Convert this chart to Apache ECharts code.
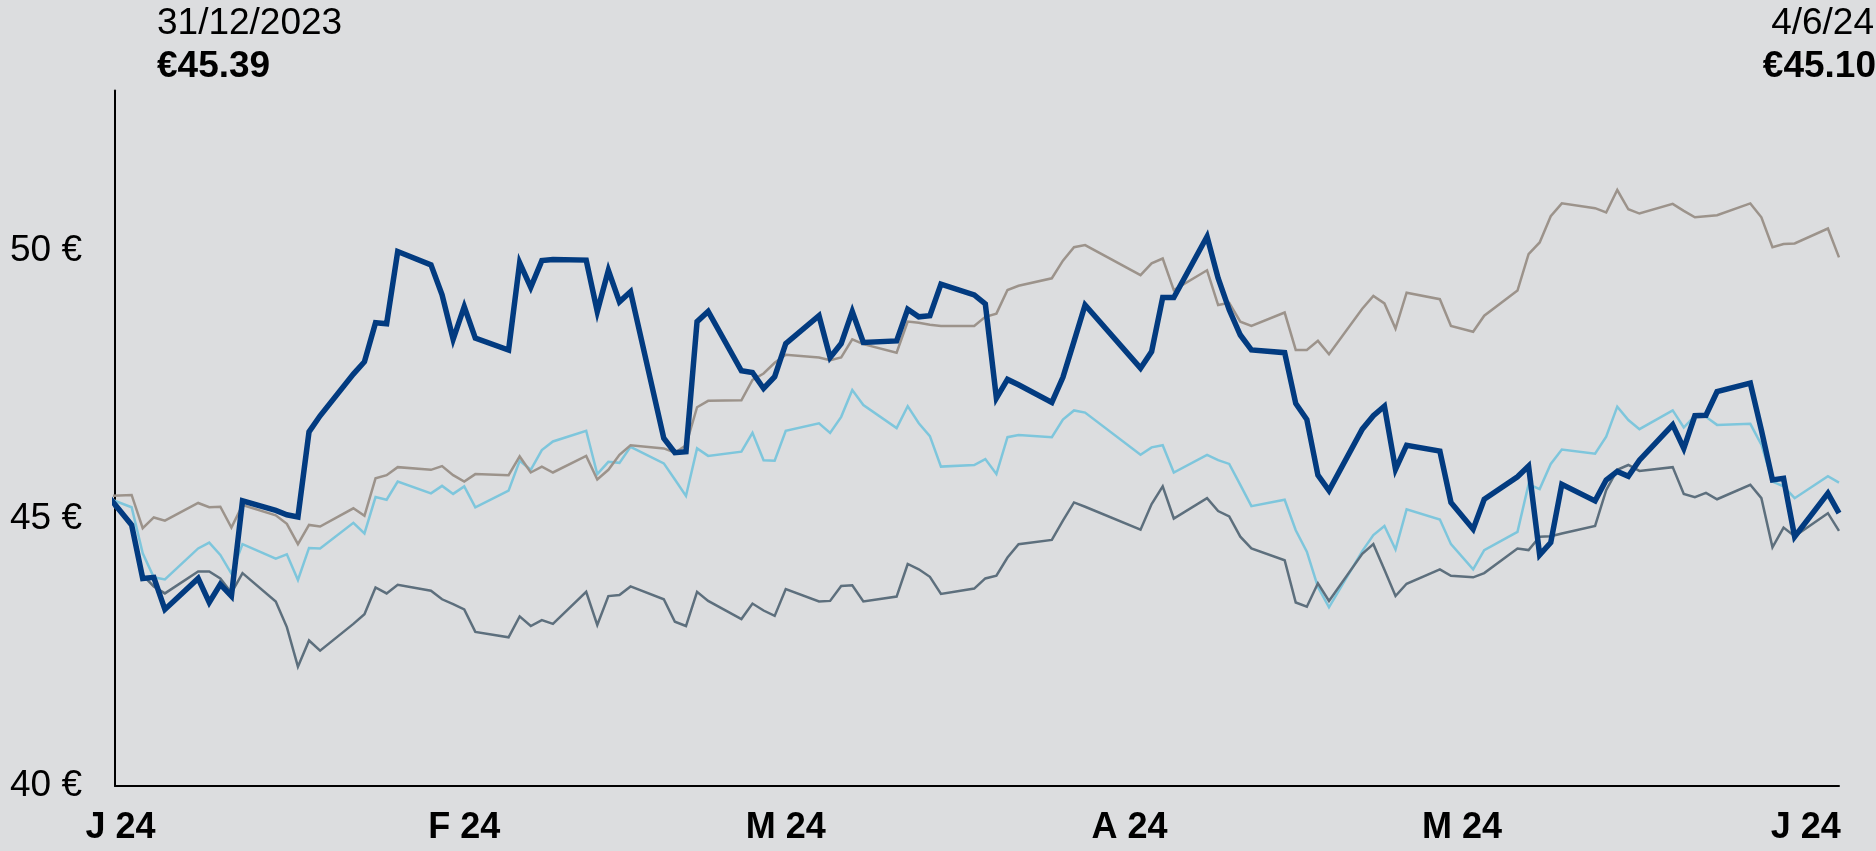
<!DOCTYPE html>
<html>
<head>
<meta charset="utf-8">
<script src="https://cdn.jsdelivr.net/npm/echarts@6/dist/echarts.min.js"></script>
<style>
html,body{margin:0;padding:0;background:#dcdddf;}
#chart{width:1876px;height:851px;}
</style>
</head>
<body>
<div id="chart"></div>
<script>
const dates = ['2023-12-31','2024-01-02','2024-01-03','2024-01-04','2024-01-05','2024-01-08','2024-01-09','2024-01-10','2024-01-11','2024-01-12',
'2024-01-15','2024-01-16','2024-01-17','2024-01-18','2024-01-19','2024-01-22','2024-01-23','2024-01-24','2024-01-25','2024-01-26',
'2024-01-29','2024-01-30','2024-01-31','2024-02-01','2024-02-02','2024-02-05','2024-02-06','2024-02-07','2024-02-08','2024-02-09',
'2024-02-12','2024-02-13','2024-02-14','2024-02-15','2024-02-16','2024-02-19','2024-02-20','2024-02-21','2024-02-22','2024-02-23',
'2024-02-26','2024-02-27','2024-02-28','2024-02-29','2024-03-01','2024-03-04','2024-03-05','2024-03-06','2024-03-07','2024-03-08',
'2024-03-11','2024-03-12','2024-03-13','2024-03-14','2024-03-15','2024-03-18','2024-03-19','2024-03-20','2024-03-21','2024-03-22',
'2024-03-25','2024-03-26','2024-03-27','2024-03-28','2024-04-02','2024-04-03','2024-04-04','2024-04-05','2024-04-08','2024-04-09',
'2024-04-10','2024-04-11','2024-04-12','2024-04-15','2024-04-16','2024-04-17','2024-04-18','2024-04-19','2024-04-22','2024-04-23',
'2024-04-24','2024-04-25','2024-04-26','2024-04-29','2024-04-30','2024-05-02','2024-05-03','2024-05-06','2024-05-07','2024-05-08',
'2024-05-09','2024-05-10','2024-05-13','2024-05-14','2024-05-15','2024-05-16','2024-05-17','2024-05-20','2024-05-21','2024-05-22',
'2024-05-23','2024-05-24','2024-05-27','2024-05-28','2024-05-29','2024-05-30','2024-05-31','2024-06-03','2024-06-04'];

const sharePrice = [45.39,44.88,43.88,43.90,43.30,43.88,43.43,43.77,43.55,45.33,
45.15,45.07,45.03,46.62,46.92,47.70,47.93,48.66,48.64,49.99,
49.74,49.18,48.35,48.96,48.37,48.15,49.78,49.32,49.82,49.84,
49.83,48.87,49.64,49.05,49.24,46.50,46.23,46.25,48.68,48.87,
47.76,47.73,47.43,47.65,48.27,48.79,48.01,48.27,48.87,48.29,
48.32,48.91,48.77,48.79,49.38,49.18,49.01,47.25,47.60,47.50,
47.17,47.64,48.31,48.99,47.81,48.12,49.13,49.13,50.27,49.49,
48.90,48.43,48.15,48.10,47.15,46.85,45.81,45.52,46.67,46.92,
47.10,45.92,46.37,46.26,45.30,44.80,45.36,45.78,45.98,44.32,
44.55,45.64,45.33,45.72,45.88,45.79,46.09,46.75,46.31,46.92,
46.93,47.37,47.53,46.65,45.72,45.75,44.66,45.47,45.10];

const peerTaupe = [45.42,45.44,44.82,45.02,44.96,45.29,45.21,45.22,44.83,45.25,
45.06,44.90,44.52,44.88,44.85,45.19,45.05,45.75,45.81,45.96,
45.91,45.98,45.81,45.69,45.83,45.81,46.16,45.86,45.97,45.86,
46.17,45.73,45.91,46.19,46.37,46.31,46.23,46.37,47.08,47.20,
47.21,47.59,47.71,47.91,48.06,48.01,47.96,48.01,48.35,48.26,
48.10,48.68,48.66,48.62,48.60,48.60,48.77,48.83,49.27,49.35,
49.49,49.82,50.07,50.11,49.55,49.77,49.86,49.27,49.64,48.99,
49.03,48.68,48.60,48.85,48.15,48.15,48.32,48.07,48.92,49.16,
49.02,48.55,49.22,49.10,48.60,48.49,48.79,49.26,49.94,50.16,
50.65,50.89,50.80,50.72,51.14,50.78,50.70,50.88,50.75,50.63,
50.65,50.67,50.89,50.63,50.07,50.13,50.14,50.42,49.88];

const peerLightBlue = [45.37,45.21,44.35,43.90,43.86,44.44,44.55,44.32,43.97,44.52,
44.25,44.33,43.85,44.45,44.44,44.92,44.72,45.40,45.35,45.69,
45.47,45.61,45.46,45.60,45.21,45.52,46.08,45.91,46.28,46.44,
46.64,45.83,46.06,46.04,46.34,46.03,45.73,45.42,46.31,46.17,
46.25,46.60,46.09,46.08,46.64,46.78,46.60,46.90,47.40,47.12,
46.69,47.10,46.78,46.54,45.97,46.00,46.11,45.83,46.52,46.56,
46.52,46.85,47.02,46.98,46.19,46.33,46.37,45.86,46.19,46.09,
46.02,45.63,45.23,45.35,44.78,44.38,43.72,43.34,44.39,44.69,
44.86,44.42,45.17,44.98,44.52,44.05,44.41,44.75,45.64,45.55,
46.02,46.29,46.21,46.53,47.09,46.84,46.67,47.02,46.70,46.92,
46.90,46.75,46.77,46.38,45.69,45.60,45.38,45.79,45.67];

const peerSlate = [45.31,44.92,43.94,43.73,43.60,44.01,44.01,43.88,43.61,43.98,
43.45,42.97,42.23,42.72,42.53,43.03,43.21,43.71,43.60,43.76,
43.65,43.49,43.40,43.30,42.88,42.78,43.17,42.99,43.10,43.03,
43.63,43.01,43.55,43.57,43.73,43.49,43.07,42.99,43.63,43.46,
43.12,43.41,43.28,43.18,43.68,43.45,43.46,43.74,43.75,43.45,
43.54,44.15,44.05,43.91,43.59,43.69,43.88,43.93,44.27,44.52,
44.60,44.96,45.30,45.22,44.79,45.27,45.60,45.00,45.38,45.14,
45.04,44.66,44.44,44.22,43.43,43.35,43.79,43.46,44.34,44.52,
44.04,43.55,43.78,44.05,43.93,43.90,43.98,44.44,44.41,44.66,
44.67,44.72,44.86,45.53,45.91,46.00,45.89,45.96,45.46,45.40,
45.48,45.36,45.63,45.38,44.46,44.83,44.67,45.10,44.77];

const monthStarts = ['2024-01-01','2024-02-01','2024-03-01','2024-04-01','2024-05-01','2024-06-01'];
const monthLabels = ['J 24','F 24','M 24','A 24','M 24','J 24'];
const yTicks = [40, 45, 50];

const startLabel = '31/12/2023';
const startValue = '€45.39';
const endLabel = '4/6/24';
const endValue = '€45.10';

function toTs(s){ const p = s.split('-').map(Number); return new Date(p[0], p[1]-1, p[2]).getTime(); }
const monthTs = monthStarts.map(toTs);
function pairs(vals){ return dates.map((d,i)=>[toTs(d), vals[i]]); }

const FONT = '"Liberation Sans", Arial, Helvetica, sans-serif';
const chart = echarts.init(document.getElementById('chart'), null, {renderer:'canvas'});

const thin = (name, color, vals) => ({
  name, type:'line', data: pairs(vals), symbol:'none', showSymbol:false,
  lineStyle:{color, width:2.5, join:'miter'}, itemStyle:{color}, z:2, animation:false
});

chart.setOption({
  backgroundColor:'#dcdddf',
  animation:false,
  grid:{left:115, right:37, top:90.5, bottom:65},
  xAxis:{
    type:'value',
    min: new Date(2023,11,31,12).getTime(),
    max: toTs('2024-06-04'),
    axisLine:{show:true, onZero:false, lineStyle:{color:'#000', width:2}},
    axisTick:{show:false},
    splitLine:{show:false},
    axisLabel:{
      customValues: monthTs,
      formatter: function(v){ const i = monthTs.indexOf(v); return i>=0 ? monthLabels[i] : ''; },
      color:'#000', fontFamily:FONT, fontSize:36, fontWeight:'bold', margin:24,
      hideOverlap:false
    }
  },
  yAxis:{
    type:'value', min:40, max:53, interval:5,
    axisLine:{show:true, lineStyle:{color:'#000', width:2}},
    axisTick:{show:false},
    splitLine:{show:false},
    axisLabel:{
      customValues: yTicks,
      formatter: function(v){ return yTicks.indexOf(v)>=0 ? v + ' €' : ''; },
      color:'#000', fontFamily:FONT, fontSize:37, margin:33
    }
  },
  graphic:[
    {type:'text', left:157, top:5, style:{text:startLabel, font:'37px '+FONT, fill:'#000'}},
    {type:'text', left:157, top:48, style:{text:startValue, font:'bold 37px '+FONT, fill:'#000'}},
    {type:'text', right:2, top:5, style:{text:endLabel, font:'37px '+FONT, fill:'#000'}},
    {type:'text', right:0, top:48, style:{text:endValue, font:'bold 37px '+FONT, fill:'#000'}}
  ],
  series:[
    thin('Peer A', '#7ec6dc', peerLightBlue),
    thin('Peer B', '#5d6f7d', peerSlate),
    thin('Peer C', '#9c938b', peerTaupe),
    {name:'Share price', type:'line', data: pairs(sharePrice), symbol:'none', showSymbol:false,
     lineStyle:{color:'#023b80', width:5.5, join:'miter'}, itemStyle:{color:'#023b80'}, z:5, animation:false}
  ]
});
</script>
</body>
</html>
